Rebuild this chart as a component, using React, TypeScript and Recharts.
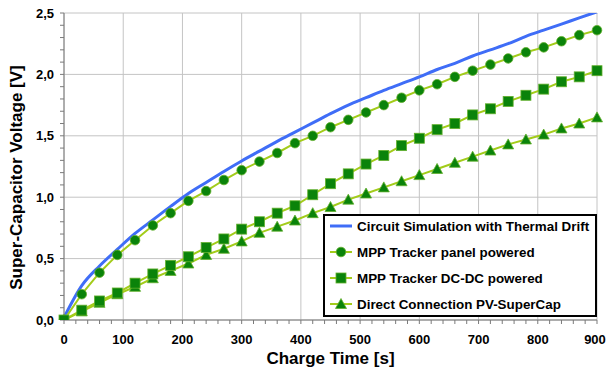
import { LineChart, Line, XAxis, YAxis, CartesianGrid, Legend, Label } from "recharts";

// charge time [s], one sample every 30 s
const chargeTime = [0, 30, 60, 90, 120, 150, 180, 210, 240, 270, 300, 330, 360, 390, 420, 450, 480, 510, 540, 570, 600, 630, 660, 690, 720, 750, 780, 810, 840, 870, 900];

const circuitSim = [0.02, 0.28, 0.44, 0.575, 0.705, 0.815, 0.925, 1.03, 1.12, 1.21, 1.295, 1.375, 1.455, 1.53, 1.605, 1.68, 1.75, 1.81, 1.87, 1.925, 1.98, 2.04, 2.09, 2.15, 2.2, 2.25, 2.31, 2.36, 2.41, 2.46, 2.51];
const mppPanel = [0, 0.21, 0.385, 0.53, 0.65, 0.77, 0.87, 0.97, 1.05, 1.14, 1.22, 1.29, 1.36, 1.44, 1.5, 1.57, 1.63, 1.69, 1.75, 1.81, 1.87, 1.92, 1.98, 2.03, 2.08, 2.13, 2.18, 2.22, 2.27, 2.32, 2.36];
const mppDcdc = [0, 0.08, 0.155, 0.22, 0.3, 0.375, 0.445, 0.515, 0.59, 0.66, 0.74, 0.8, 0.87, 0.93, 1.02, 1.11, 1.19, 1.27, 1.34, 1.42, 1.48, 1.55, 1.6, 1.67, 1.72, 1.78, 1.83, 1.88, 1.94, 1.98, 2.03];
const directPv = [0, 0.07, 0.14, 0.21, 0.27, 0.34, 0.4, 0.46, 0.53, 0.58, 0.64, 0.71, 0.76, 0.81, 0.87, 0.92, 0.98, 1.03, 1.08, 1.13, 1.18, 1.23, 1.28, 1.33, 1.38, 1.43, 1.47, 1.51, 1.56, 1.6, 1.65];

const seriesNames = [
    "Circuit Simulation with Thermal Drift",
    "MPP Tracker panel powered",
    "MPP Tracker DC-DC powered",
    "Direct Connection PV-SuperCap",
];

// major ticks carry labels + grid, minor ticks are just tick marks
const xMajorTicks = [0, 100, 200, 300, 400, 500, 600, 700, 800, 900];
const xAllTicks = [0, 20, 40, 60, 80, 100, 120, 140, 160, 180, 200, 220, 240, 260, 280, 300, 320, 340, 360, 380, 400, 420, 440, 460, 480, 500, 520, 540, 560, 580, 600, 620, 640, 660, 680, 700, 720, 740, 760, 780, 800, 820, 840, 860, 880, 900];
const yMajorTicks = [0, 0.5, 1, 1.5, 2, 2.5];
const yAllTicks = [0, 0.1, 0.2, 0.3, 0.4, 0.5, 0.6, 0.7, 0.8, 0.9, 1, 1.1, 1.2, 1.3, 1.4, 1.5, 1.6, 1.7, 1.8, 1.9, 2, 2.1, 2.2, 2.3, 2.4, 2.5];

const FONT = "'Liberation Sans', Arial, sans-serif";
const BLUE = "#3f6df7";
const LIME = "#a3cc1a";
const DARK = "#0a830a";
const EDGE = "#62b02c";

const data = chargeTime.map((t, i) => ({
    t,
    sim: circuitSim[i],
    panel: mppPanel[i],
    dcdc: mppDcdc[i],
    direct: directPv[i],
}));

const isMajor = (v: number, list: number[]) => list.some((m) => Math.abs(m - v) < 1e-6);

function CircleDot(props: any) {
    const { cx, cy } = props;
    if (cx == null || cy == null) return null;
    return <circle cx={cx} cy={cy} r={4.8} fill={DARK} stroke={EDGE} strokeWidth={0.8} />;
}

function SquareDot(props: any) {
    const { cx, cy } = props;
    if (cx == null || cy == null) return null;
    return <rect x={cx - 5} y={cy - 5} width={10} height={10} fill={DARK} stroke={EDGE} strokeWidth={0.8} />;
}

function TriangleDot(props: any) {
    const { cx, cy } = props;
    if (cx == null || cy == null) return null;
    return <path d={`M${cx},${cy - 5.5} L${cx + 5.5},${cy + 4.5} L${cx - 5.5},${cy + 4.5} Z`} fill={DARK} stroke={EDGE} strokeWidth={0.8} />;
}

const markers = [null, CircleDot, SquareDot, TriangleDot];

function LegendBox() {
    return (
        <div style={{ position: "relative", border: "2px solid #000", background: "#fff", width: 270, height: 99, fontFamily: FONT, fontWeight: "bold", fontSize: 13.4, color: "#000" }}>
            {seriesNames.map((name, i) => {
                const Marker = markers[i];
                return (
                    <div key={name} style={{ position: "absolute", left: 0, top: i * 26, height: 20, display: "flex", alignItems: "center", whiteSpace: "nowrap" }}>
                        <svg width={24} height={14} style={{ marginLeft: 4, marginRight: 4 }}>
                            <line x1={1} y1={7} x2={23} y2={7} stroke={i === 0 ? BLUE : LIME} strokeWidth={i === 0 ? 3 : 2} />
                            {Marker ? <Marker cx={12} cy={7} /> : null}
                        </svg>
                        <span>{name}</span>
                    </div>
                );
            })}
        </div>
    );
}

function XTick(props: any) {
    const { x, y, payload } = props;
    if (!isMajor(payload.value, xMajorTicks)) return null;
    const last = payload.value === xMajorTicks[xMajorTicks.length - 1];
    return (
        <text x={last ? x - 2 : x} y={y} dy="0.71em" textAnchor="middle" fontFamily={FONT} fontWeight="bold" fontSize={13} fill="#000">
            {payload.value}
        </text>
    );
}

function YTick(props: any) {
    const { x, y, payload } = props;
    if (!isMajor(payload.value, yMajorTicks)) return null;
    return (
        <text x={x} y={y} dy="0.355em" textAnchor="end" fontFamily={FONT} fontWeight="bold" fontSize={13} fill="#000">
            {payload.value.toFixed(1).replace(".", ",")}
        </text>
    );
}

function YTitle(props: any) {
    const vb = props.viewBox;
    const x = 16;
    const y = vb.y + vb.height / 2 + 11;
    return (
        <text x={x} y={y} transform={`rotate(-90, ${x}, ${y})`} textAnchor="middle" dominantBaseline="central" fontFamily={FONT} fontWeight="bold" fontSize={17} fill="#000">
            Super-Capacitor Voltage [V]
        </text>
    );
}

function XTitle(props: any) {
    const vb = props.viewBox;
    const x = vb.x + vb.width / 2;
    const y = vb.y + 38;
    return (
        <text x={x} y={y} textAnchor="middle" dominantBaseline="central" fontFamily={FONT} fontWeight="bold" fontSize={17} fill="#000">
            Charge Time [s]
        </text>
    );
}

export default function App() {
    return (
        <div style={{ position: "absolute", left: 0, top: 0, width: 607, height: 371, background: "#fff" }}>
            <LineChart width={607} height={371} data={data} margin={{ top: 13, right: 10, left: 0, bottom: 11 }}>
                <CartesianGrid stroke="#c4c4c4" strokeWidth={1} horizontalValues={yMajorTicks} verticalValues={xMajorTicks} />
                <XAxis
                    type="number"
                    dataKey="t"
                    domain={[0, 900]}
                    ticks={xAllTicks}
                    interval={0}
                    height={40}
                    tickSize={4}
                    tickMargin={11}
                    stroke="#7a7a7a"
                    tick={<XTick />}
                >
                    <Label content={XTitle} />
                </XAxis>
                <YAxis
                    type="number"
                    domain={[0, 2.5]}
                    ticks={yAllTicks}
                    interval={0}
                    width={64}
                    tickSize={4}
                    tickMargin={6}
                    stroke="#7a7a7a"
                    tick={<YTick />}
                    allowDataOverflow
                >
                    <Label content={YTitle} />
                </YAxis>
                <Line type="monotone" dataKey="sim" stroke={BLUE} strokeWidth={3} dot={false} isAnimationActive={false} />
                <Line type="linear" dataKey="panel" stroke={LIME} strokeWidth={2} dot={<CircleDot />} isAnimationActive={false} />
                <Line type="linear" dataKey="direct" stroke={LIME} strokeWidth={2} dot={<TriangleDot />} isAnimationActive={false} />
                <Line type="linear" dataKey="dcdc" stroke={LIME} strokeWidth={2} dot={<SquareDot />} isAnimationActive={false} />
                <Legend
                    layout="vertical"
                    align="center"
                    verticalAlign="middle"
                    content={<LegendBox />}
                    wrapperStyle={{ position: "absolute", left: 323, top: 214, width: 274, height: 103 }}
                />
            </LineChart>
        </div>
    );
}
